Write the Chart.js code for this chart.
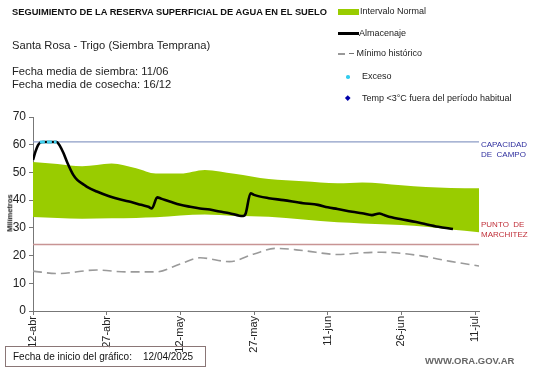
<!DOCTYPE html>
<html><head><meta charset="utf-8">
<script src="https://cdn.jsdelivr.net/npm/chart.js@4/dist/chart.umd.min.js"></script>
<style>
html,body{margin:0;padding:0;background:#fff;}
#wrap{position:relative;width:541px;height:368px;overflow:hidden;font-family:"Liberation Sans",Arial,sans-serif;color:#111;}
#c{position:absolute;left:0;top:0;}
.t{position:absolute;white-space:nowrap;line-height:1;}
.lg{font-size:9px;color:#222;}
</style></head><body>
<div id="wrap">
<canvas id="c" width="541" height="368"></canvas>
<div class="t" style="left:12px;top:8px;font-weight:bold;font-size:9.3px;">SEGUIMIENTO DE LA RESERVA SUPERFICIAL DE AGUA EN EL SUELO</div>
<div class="t" style="left:12px;top:40px;font-size:11.2px;color:#222;">Santa Rosa - Trigo (Siembra Temprana)</div>
<div class="t" style="left:12px;top:66px;font-size:11.2px;color:#222;">Fecha media de siembra: 11/06</div>
<div class="t" style="left:12px;top:79px;font-size:11.2px;color:#222;">Fecha media de cosecha: 16/12</div>

<div style="position:absolute;left:338px;top:9px;width:21px;height:6px;background:#99cc00;"></div>
<div class="t lg" style="left:360px;top:7px;">Intervalo Normal</div>
<div style="position:absolute;left:338px;top:32px;width:21px;height:2.5px;background:#000;"></div>
<div class="t lg" style="left:359px;top:29px;">Almacenaje</div>
<div style="position:absolute;left:338px;top:53px;width:7px;height:1.5px;background:#999;"></div>
<div class="t lg" style="left:349px;top:49px;">– Mínimo histórico</div>
<div style="position:absolute;left:346px;top:75px;width:3.5px;height:3.5px;border-radius:50%;background:#33ccee;"></div>
<div class="t lg" style="left:362px;top:72px;">Exceso</div>
<div style="position:absolute;left:346px;top:96px;width:3.5px;height:3.5px;transform:rotate(45deg);background:#0000aa;"></div>
<div class="t lg" style="left:362px;top:94px;">Temp &lt;3°C fuera del período habitual</div>

<div class="t" style="left:481px;top:140px;font-size:8px;color:#2e2e9e;line-height:9.5px;">CAPACIDAD<br>DE&nbsp;&nbsp;CAMPO</div>
<div class="t" style="left:481px;top:220px;font-size:8px;color:#c0303a;line-height:9.5px;">PUNTO&nbsp;&nbsp;DE<br>MARCHITEZ</div>
<div class="t" style="left:10px;top:213px;font-size:7.5px;font-weight:bold;transform:translate(-50%,-50%) rotate(-90deg);">Milímetros</div>

<div style="position:absolute;left:5px;top:346px;width:199px;height:19px;border:1px solid #8a7676;"></div>
<div class="t" style="left:13px;top:352px;font-size:10px;">Fecha de inicio del gráfico:</div>
<div class="t" style="left:143px;top:352px;font-size:10px;">12/04/2025</div>
<div class="t" style="left:425px;top:356px;font-size:9.5px;font-weight:bold;color:#666;">WWW.ORA.GOV.AR</div>
</div>
<script>
// Day offsets from 12-abr
const tickDays = [0, 15, 30, 45, 60, 75, 90];
const tickLabels = ['12-abr', '27-abr', '12-may', '27-may', '11-jun', '26-jun', '11-jul'];

const bandDays  = [0, 5, 10, 16, 21, 25, 30, 35, 41, 48, 55, 62, 67, 75, 80, 85, 91];
const bandUpper = [53.8, 53.0, 52.2, 53.2, 51.5, 49.6, 49.6, 50.9, 49.5, 47.6, 46.8, 46.1, 46.4, 45.4, 44.7, 44.4, 44.3];
const bandLower = [33.9, 33.6, 33.3, 33.5, 33.6, 33.8, 34.5, 34.8, 34.3, 34.0, 33.0, 32.0, 31.6, 31.0, 30.4, 29.4, 28.4];

const storeDays = [0, 0.5, 1, 1.5, 2, 3, 4, 4.8, 5.5, 6.2, 7, 8.2, 9, 10.2, 11, 13, 15.5, 18, 20, 22, 23.5, 24.2, 25.3, 26, 28, 30, 32, 34, 36, 38, 40, 42, 42.8, 43.3, 44.3, 45, 48, 51, 55, 58, 60, 62, 65, 67, 69, 70.5, 71.5, 73, 75, 78, 80, 82.5, 85.5];
const storeVals = [54.5, 57.5, 59.8, 60.8, 61, 61, 61, 61, 59.5, 57, 53.5, 49.1, 47.3, 45.8, 44.8, 43.1, 41.4, 40.1, 39.3, 38.3, 37.6, 37.0, 41.0, 40.6, 39.4, 38.3, 37.6, 37.0, 36.6, 35.9, 35.3, 34.4, 34.3, 35.2, 42.5, 41.9, 40.7, 40.0, 38.9, 38.3, 37.4, 36.8, 35.8, 35.3, 34.6, 35.2, 34.6, 33.8, 33.1, 32.1, 31.3, 30.4, 29.6];

const excesoDays = [1.4, 2, 3, 4, 4.8];
const excesoVals = [61, 61, 61, 61, 61];

const minDays = [0, 5, 13, 19, 25, 30, 34, 40, 45, 49.5, 55, 62, 67, 71, 75, 79, 85, 91];
const minVals = [14.4, 13.5, 14.8, 14.1, 14.1, 17.0, 19.2, 17.8, 20.6, 22.6, 21.8, 20.4, 21.0, 21.2, 20.8, 19.9, 17.9, 16.2];

const capacidad = 61;
const marchitez = 24;
const xMax = 90.8;

const pts = (xs, ys) => xs.map((x, i) => ({x: x, y: ys[i]}));
const FONT = '"Liberation Sans", Arial, sans-serif';

const datasets = [
  {label: 'Exceso', data: pts(excesoDays, excesoVals), borderColor: '#40d0f0', borderWidth: 3, borderDash: [5, 2], pointRadius: 0, order: 0},
  {label: 'Almacenaje', data: pts(storeDays, storeVals), borderColor: '#000', borderWidth: 2.6, pointRadius: 0, cubicInterpolationMode: 'monotone', order: 1},
  {label: 'Mínimo histórico', data: pts(minDays, minVals), borderColor: '#9a9a9a', borderWidth: 1.6, borderDash: [9, 5], pointRadius: 0, cubicInterpolationMode: 'monotone', order: 2},
  {label: 'Capacidad', data: pts([0, xMax], [capacidad, capacidad]), borderColor: '#8c9cc6', borderWidth: 1.3, pointRadius: 0, order: 3},
  {label: 'Marchitez', data: pts([0, xMax], [marchitez, marchitez]), borderColor: '#c89494', borderWidth: 1.6, pointRadius: 0, order: 4},
  {label: 'Inferior', data: pts(bandDays, bandLower), borderWidth: 0, borderColor: 'rgba(0,0,0,0)', pointRadius: 0, cubicInterpolationMode: 'monotone', order: 6},
  {label: 'Intervalo Normal', data: pts(bandDays, bandUpper), borderWidth: 0, borderColor: 'rgba(0,0,0,0)', backgroundColor: '#99cc00', fill: 5, pointRadius: 0, cubicInterpolationMode: 'monotone', order: 5}
];

new Chart(document.getElementById('c'), {
  type: 'line',
  data: {datasets: datasets},
  options: {
    responsive: false,
    animation: false,
    events: [],
    layout: {padding: {top: 117, right: 62, left: 0, bottom: 0}},
    plugins: {legend: {display: false}, tooltip: {enabled: false}},
    scales: {
      x: {
        type: 'linear', min: 0, max: xMax,
        afterBuildTicks: s => { s.ticks = tickDays.map(v => ({value: v})); },
        afterFit: s => { s.height = 57; },
        ticks: {
          autoSkip: false, minRotation: 90, maxRotation: 90, padding: 1,
          color: '#222', font: {family: FONT, size: 11},
          callback: v => { const i = tickDays.indexOf(v); return i >= 0 ? tickLabels[i] : ''; }
        },
        grid: {drawOnChartArea: false, drawTicks: true, tickLength: 4, color: '#777'},
        border: {color: '#777', width: 1}
      },
      y: {
        min: 0, max: 70,
        afterFit: s => { s.width = 33; },
        ticks: {stepSize: 10, color: '#222', padding: 3, font: {family: FONT, size: 12}},
        grid: {drawOnChartArea: false, drawTicks: true, tickLength: 4, color: '#777'},
        border: {color: '#777', width: 1}
      }
    }
  }
});
</script>
</body></html>
